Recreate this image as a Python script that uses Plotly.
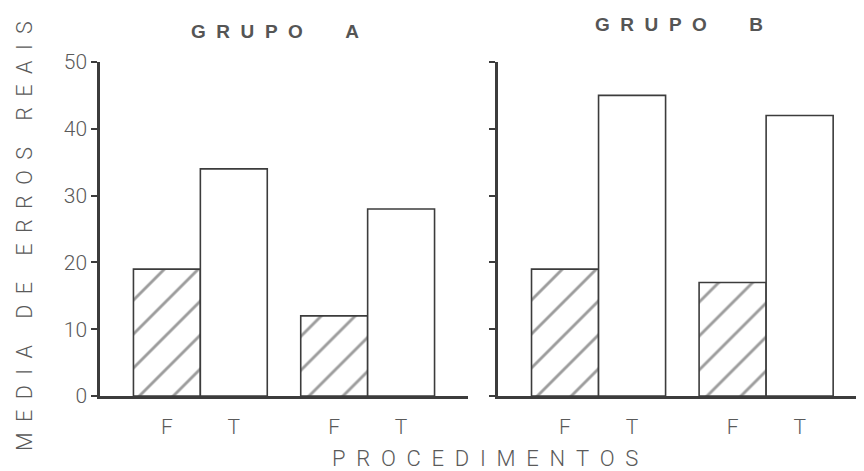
import plotly.graph_objects as go

# Data
positions = [1, 2, 3.5, 4.5]
tick_labels = ["F", "T", "F", "T"]
f_pos = [1, 3.5]
t_pos = [2, 4.5]
grupo_a_f = [19, 12]
grupo_a_t = [34, 28]
grupo_b_f = [19, 17]
grupo_b_t = [45, 42]
y_ticks = [0, 10, 20, 30, 40, 50]

line_col = "#3c3c3c"
text_col = "#5a5a5a"

W, H = 856, 463  # page body has an 8px offset

fig = go.Figure()

def add_panel(f_vals, t_vals, xa, ya):
    fig.add_trace(go.Bar(
        x=f_pos, y=f_vals, width=1, xaxis=xa, yaxis=ya,
        marker=dict(color="white", line=dict(color=line_col, width=1.6),
                    pattern=dict(shape="/", size=24, solidity=0.12,
                                 fgcolor="#3a3a3a", bgcolor="white")),
        showlegend=False))
    fig.add_trace(go.Bar(
        x=t_pos, y=t_vals, width=1, xaxis=xa, yaxis=ya,
        marker=dict(color="white", line=dict(color=line_col, width=1.6)),
        showlegend=False))

add_panel(grupo_a_f, grupo_a_t, "x", "y")
add_panel(grupo_b_f, grupo_b_t, "x2", "y2")

tickfont = dict(family="Roboto", size=21, color=text_col, weight=300)

xcommon = dict(tickvals=positions, ticktext=tick_labels,
               showline=True, linecolor=line_col, linewidth=2.5,
               ticks="outside", ticklen=10, tickcolor="rgba(0,0,0,0)",
               showgrid=False, zeroline=False, tickfont=tickfont)
ycommon = dict(range=[0, 50], tickvals=y_ticks, showline=True, linecolor=line_col,
               linewidth=2.5, ticks="outside", ticklen=6, tickcolor=line_col,
               tickwidth=1.5, showgrid=False, zeroline=False, tickfont=tickfont)

fig.update_layout(
    width=W, height=H,
    margin=dict(l=0, r=0, t=54, b=75),
    paper_bgcolor="white", plot_bgcolor="white",
    barmode="overlay",
    xaxis=dict(domain=[92/W, 460/W], anchor="y", range=[0, 5.5], **xcommon),
    xaxis2=dict(domain=[490/W, 1.0], anchor="y2", range=[0, 5.46], **xcommon),
    yaxis=dict(domain=[0, 1], anchor="x", **ycommon),
    yaxis2=dict(domain=[0, 1], anchor="x2", showticklabels=False, **ycommon),
)

ph = H - 54 - 75
def py(pix):  # reference pixel y -> paper y
    return (H - 75 - (pix - 8)) / ph

def px(pix):
    return (pix - 8) / W

sp = "&nbsp;&nbsp;"
ann_font_title = dict(family="Liberation Sans", size=19, color="#555555", weight="bold")
fig.add_annotation(text=sp.join("GRUPO") + "&nbsp;" * 8 + "A", x=px(275), y=py(31),
                   xref="paper", yref="paper", xanchor="center", yanchor="middle",
                   showarrow=False, font=ann_font_title)
fig.add_annotation(text=sp.join("GRUPO") + "&nbsp;" * 8 + "B", x=px(679), y=py(24),
                   xref="paper", yref="paper", xanchor="center", yanchor="middle",
                   showarrow=False, font=ann_font_title)

ytitle = ("&nbsp;" * 5).join(sp.join(w) for w in ["MEDIA", "DE", "ERROS", "REAIS"])
fig.add_annotation(text=ytitle, x=px(24), y=py(236), xref="paper", yref="paper",
                   xanchor="center", yanchor="middle", textangle=-90,
                   showarrow=False, font=dict(family="Roboto", size=21.5, color=text_col, weight=300))
fig.add_annotation(text=sp.join("PROCEDIMENTOS"), x=px(485), y=py(458),
                   xref="paper", yref="paper", xanchor="center", yanchor="middle",
                   showarrow=False, font=dict(family="Roboto", size=22, color=text_col, weight=300))

fig.write_html("out.html")
